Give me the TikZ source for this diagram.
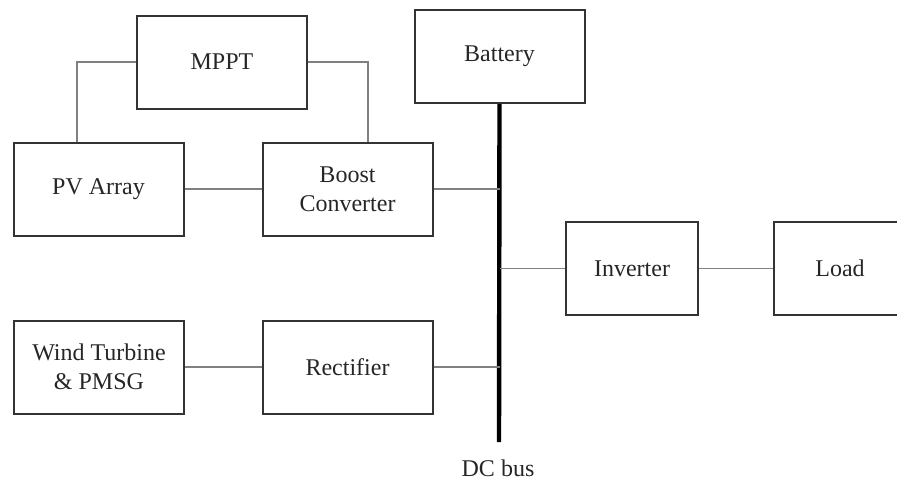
\documentclass[tikz,border=0pt]{standalone}
\usepackage{fontspec}
\setmainfont{Liberation Serif}
\usetikzlibrary{calc}

\begin{document}
\begin{tikzpicture}[x=0.5pt, y=-0.5pt,
    block/.style={draw=black!80, line width=1pt, align=center, inner sep=0pt,
      minimum width=85pt, minimum height=46.5pt, text=black!85,
      font=\fontsize{12pt}{14.5pt}\selectfont},
    wire/.style={draw=black!50, line width=0.6pt},
    busline/.style={draw=black, line width=2.2pt}]
  % Picture frame
  \clip (0,0) rectangle (897,484);
  % Blocks
  \node[block] (mppt) at (222,62) {MPPT};
  \node[block] (battery) at (499.5,56.5) {Battery};
  \node[block] (pv) at (98.5,189) {PV Array};
  \node[block] (boost) at (347.5,189) {Boost\\Converter};
  \node[block, minimum width=66pt] (inverter) at (632,268.5) {Inverter};
  \node[block, minimum width=66pt] (load) at (840,268.5) {Load};
  \node[block] (wind) at (99,367) {Wind Turbine\\\& PMSG};
  \node[block] (rectifier) at (347.5,367) {Rectifier};
  % DC bus
  \coordinate (busend) at (499,442);
  \draw[busline] (battery.south) -- (busend);
  \node[text=black!85, font=\fontsize{12pt}{14.5pt}\selectfont] (buslabel) at (498,468) {DC bus};
  % Connections
  \draw[wire] (mppt.west) -| ($(pv.north)+(-21.5,0)$);
  \draw[wire] (mppt.east) -| ($(boost.north)+(20.5,0)$);
  \draw[wire] (pv.east) -- (boost.west);
  \draw[wire] (boost.east) -- (boost.east -| battery.south);
  \draw[wire] (inverter.west -| battery.south) -- (inverter.west);
  \draw[wire] (inverter.east) -- (load.west);
  \draw[wire] (wind.east) -- (rectifier.west);
  \draw[wire] (rectifier.east) -- (rectifier.east -| battery.south);
\end{tikzpicture}
\end{document}
